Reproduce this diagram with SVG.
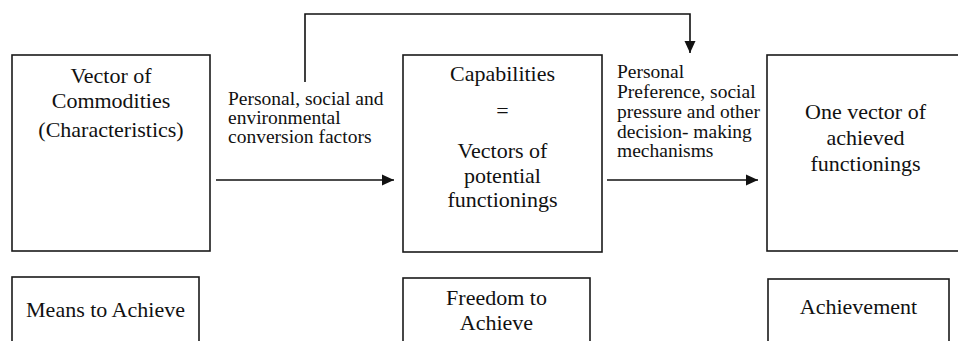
<svg xmlns="http://www.w3.org/2000/svg" width="958" height="341" viewBox="0 0 958 341">
<style>
.box{fill:#fff;stroke:#1a1a1a;stroke-width:1.6}
.t{font-family:'Liberation Serif','Times New Roman',serif;font-size:22px;fill:#111;text-anchor:middle}
.l{font-family:'Liberation Serif','Times New Roman',serif;font-size:19.5px;fill:#111}
.c{fill:none;stroke:#111;stroke-width:1.6}
</style>
<defs>
<marker id="ah" markerUnits="userSpaceOnUse" markerWidth="13" markerHeight="12" refX="12" refY="6" orient="auto">
<path d="M0,0.5 L12,6 L0,11.5 Z" fill="#111"/>
</marker>
</defs>
<rect width="958" height="341" fill="#fff"/>
<g id="commodities">
<rect class="box" x="12" y="55" width="198" height="196"/>
<text class="t" x="111" y="83">Vector of</text>
<text class="t" x="111" y="108">Commodities</text>
<text class="t" x="111" y="137">(Characteristics)</text>
</g>
<g id="capabilities">
<rect class="box" x="403" y="55" width="199" height="197"/>
<text class="t" x="502.5" y="81">Capabilities</text>
<text class="t" x="502.5" y="118">=</text>
<text class="t" x="502.5" y="158">Vectors of</text>
<text class="t" x="502.5" y="183">potential</text>
<text class="t" x="502.5" y="207">functionings</text>
</g>
<g id="achieved">
<rect class="box" x="767" y="55" width="198" height="196"/>
<text class="t" x="865.5" y="119">One vector of</text>
<text class="t" x="865.5" y="145">achieved</text>
<text class="t" x="865.5" y="171">functionings</text>
</g>
<g id="means">
<rect class="box" x="12" y="277" width="187" height="80"/>
<text class="t" x="105.5" y="317">Means to Achieve</text>
</g>
<g id="freedom">
<rect class="box" x="403" y="278" width="187" height="80"/>
<text class="t" x="496.5" y="305">Freedom to</text>
<text class="t" x="496.5" y="330">Achieve</text>
</g>
<g id="achievement">
<rect class="box" x="768" y="279" width="181" height="80"/>
<text class="t" x="858.5" y="314">Achievement</text>
</g>
<g id="connectors">
<line class="c" x1="216" y1="180" x2="394" y2="180" marker-end="url(#ah)"/>
<line class="c" x1="607" y1="180" x2="758" y2="180" marker-end="url(#ah)"/>
<polyline class="c" points="305,82 305,14 690,14 690,53" marker-end="url(#ah)"/>
<text class="l" x="228" y="105">Personal, social and</text>
<text class="l" x="228" y="124">environmental</text>
<text class="l" x="228" y="143">conversion factors</text>
<text class="l" x="617" y="78">Personal</text>
<text class="l" x="617" y="98">Preference, social</text>
<text class="l" x="617" y="118">pressure and other</text>
<text class="l" x="617" y="138">decision- making</text>
<text class="l" x="617" y="157">mechanisms</text>
</g>
</svg>
